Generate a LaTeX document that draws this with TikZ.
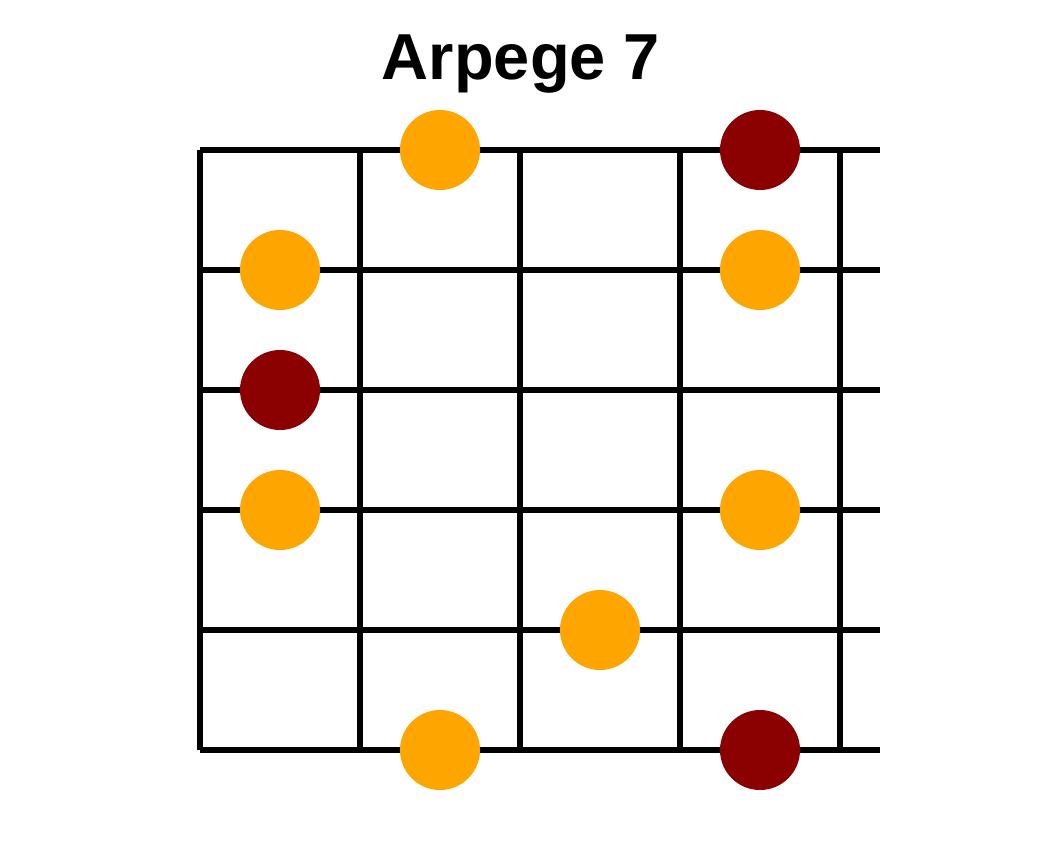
\documentclass[tikz,border=0pt]{standalone}
\usepackage{fontspec}
\setmainfont{Liberation Sans}
\definecolor{noteor}{HTML}{FFA500}
\definecolor{notered}{HTML}{8B0000}
\begin{document}
\begin{tikzpicture}[x=1pt,y=-1pt,
  grid/.style={line width=5.5pt,line cap=butt,black},
  note/.style={circle,fill=noteor,minimum size=80pt,inner sep=0pt,draw=none},
  root/.style={note,fill=notered}]
\useasboundingbox (0,0) rectangle (1040,850);
\foreach \y in {150,270,390,510,630,750} \draw[grid] (200,\y) -- (880,\y);
\foreach \x in {200,360,520,680,840} \draw[grid] (\x,150) -- (\x,750);
\node[note] (n1) at (440,150) {};
\node[root] (n2) at (760,150) {};
\node[note] (n3) at (280,270) {};
\node[note] (n4) at (760,270) {};
\node[root] (n5) at (280,390) {};
\node[note] (n6) at (280,510) {};
\node[note] (n7) at (760,510) {};
\node[note] (n8) at (600,630) {};
\node[note] (n9) at (440,750) {};
\node[root] (n10) at (760,750) {};
\node[font=\fontsize{65}{72}\selectfont\bfseries,anchor=base,inner sep=0pt] (title) at (521,80) {Arpege 7};
\end{tikzpicture}
\end{document}
